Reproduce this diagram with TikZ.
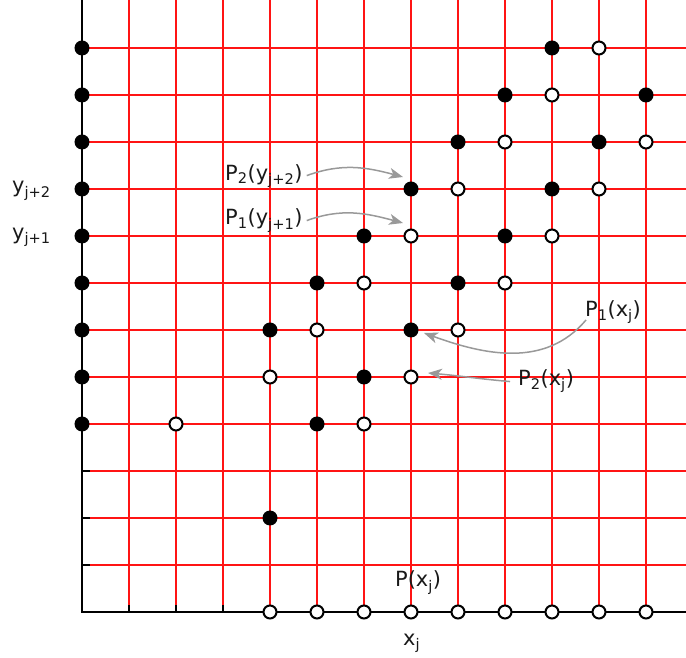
\documentclass[tikz,border=0pt]{standalone}
\usepackage{fontspec}
\setmainfont{DejaVu Sans}
\usetikzlibrary{arrows.meta}
\definecolor{gridred}{RGB}{255,20,20}
\begin{document}
\begin{tikzpicture}[x=47bp,y=47bp,
  gridline/.style={draw=gridred, line width=1.4bp},
  axisline/.style={draw=black, line width=2bp},
  fdot/.style={circle, fill=black, inner sep=0pt, minimum size=15bp},
  odot/.style={circle, draw=black, fill=white, line width=2bp, inner sep=0pt, minimum size=13bp},
  lab/.style={inner sep=0pt, anchor=base west, font=\fontsize{21}{25}\selectfont, text=black!90},
  garrow/.style={draw=black!40, line width=1.5bp, -{Stealth[length=14bp,width=11bp,inset=4bp]}},
]
\useasboundingbox (-1.74468,-0.97872) rectangle (12.85106,13.02128);
% grid
\foreach \i in {1,...,12} \path[gridline] (\i,0) -- (\i,13.02128);
\foreach \j in {1,...,12} \path[gridline] (0,\j) -- (12.85106,\j);
% axes
\path[axisline] (0,13.02128) -- (0,0) -- (12.85106,0);
\path[axisline] (1,0) -- (1,0.15) (2,0) -- (2,0.15) (3,0) -- (3,0.15)
  (0,1) -- (0.17,1) (0,2) -- (0.17,2) (0,3) -- (0.17,3);
% filled dots
\foreach \i/\j in {0/4,0/5,0/6,0/7,0/8,0/9,0/10,0/11,0/12,
  5/4,6/5,4/6,7/6,5/7,8/7,6/8,9/8,7/9,10/9,8/10,11/10,9/11,12/11,10/12,4/2}
  \node[fdot] (f-\i-\j) at (\i,\j) {};
% open dots
\foreach \i/\j in {2/4,6/4,4/5,7/5,5/6,8/6,6/7,9/7,7/8,10/8,8/9,11/9,9/10,12/10,10/11,11/12,
  4/0,5/0,6/0,7/0,8/0,9/0,10/0,11/0,12/0}
  \node[odot] (o-\i-\j) at (\i,\j) {};
% labels
\node[lab] (yj2) at (-1.489,8.915) {y\textsubscript{j+2}};
\node[lab] (yj1) at (-1.489,7.936) {y\textsubscript{j+1}};
\node[lab] (p2y) at (3.043,9.191) {P\textsubscript{2}(y\textsubscript{j+2})};
\node[lab] (p1y) at (3.043,8.234) {P\textsubscript{1}(y\textsubscript{j+1})};
\node[lab] (p1x) at (10.702,6.277) {P\textsubscript{1}(x\textsubscript{j})};
\node[lab] (p2x) at (9.277,4.809) {P\textsubscript{2}(x\textsubscript{j})};
\node[lab] (px) at (6.660,0.532) {P(x\textsubscript{j})};
\node[lab] (xj) at (6.830,-0.723) {x\textsubscript{j}};
% arrows
\draw[garrow] ([xshift=4bp]p2y.east) to[out=20,in=165] ([xshift=-8bp,yshift=12bp]f-7-9.center);
\draw[garrow] ([xshift=4bp]p1y.east) to[out=20,in=165] ([xshift=-8bp,yshift=13bp]o-7-8.center);
\draw[garrow] ([xshift=1bp,yshift=-3bp]p1x.base west) to[out=-130,in=-20] ([xshift=13bp,yshift=-3bp]f-7-6.center);
\draw[garrow] ([xshift=-8bp]p2x.west) to[out=175,in=-5] ([xshift=17bp,yshift=4bp]o-7-5.center);
\end{tikzpicture}
\end{document}
